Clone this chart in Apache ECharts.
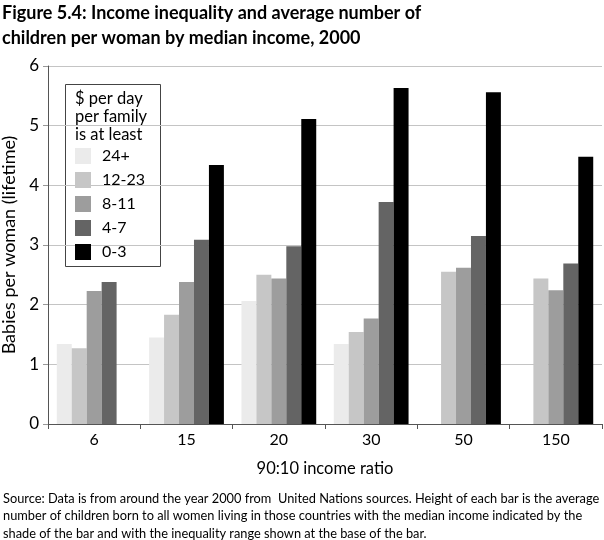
<!DOCTYPE html>
<html><head><meta charset="utf-8">
<script src="https://cdn.jsdelivr.net/npm/echarts@6/dist/echarts.min.js"></script>
<style>html,body{margin:0;padding:0;background:#fff}#c{width:604px;height:540px}</style>
</head><body><div id="c"></div>
<script>
const categories = ['6','15','20','30','50','150'];
const seriesNames = ['24+','12-23','8-11','4-7','0-3'];
const s24 = [1.34, 1.45, 2.06, 1.34, null, null];
const s12 = [1.27, 1.83, 2.50, 1.54, 2.55, 2.44];
const s8  = [2.23, 2.38, 2.44, 1.77, 2.62, 2.24];
const s4  = [2.38, 3.09, 2.98, 3.72, 3.15, 2.69];
const s0  = [null, 4.34, 5.11, 5.63, 5.56, 4.48];
const yTicks = [0,1,2,3,4,5,6];
const colors = ['#ebebeb','#c6c6c6','#9d9d9d','#646464','#000000'];
const values = [s24, s12, s8, s4, s0];
const F = 'Lato, "Open Sans", sans-serif';

const chart = echarts.init(document.getElementById('c'));
chart.setOption({
  animation: false,
  textStyle: { fontFamily: F },
  grid: { left: 48, right: 2, top: 66, bottom: 116, containLabel: false, outerBoundsMode: 'none' },
  xAxis: {
    type: 'category', data: categories,
    name: '90:10 income ratio', nameLocation: 'middle', nameGap: 36,
    nameTextStyle: { fontSize: 16.5, color: '#000', fontFamily: F },
    axisLine: { lineStyle: { color: '#555', width: 1 } },
    axisTick: { show: true, alignWithLabel: false, length: 5, lineStyle: { color: '#555' } },
    axisLabel: { fontSize: 16, color: '#000', margin: 8, fontFamily: F }
  },
  yAxis: {
    type: 'value', min: yTicks[0], max: yTicks[yTicks.length-1], interval: 1,
    name: 'Babies per woman (lifetime)', nameLocation: 'middle', nameGap: 28,
    nameTextStyle: { fontSize: 18, color: '#000', fontFamily: F },
    axisLine: { show: true, lineStyle: { color: '#555' } },
    axisTick: { show: true, length: 5, lineStyle: { color: '#999' } },
    axisLabel: { fontSize: 17, color: '#000', margin: 9, fontFamily: F },
    splitLine: { lineStyle: { color: '#c4c4c4', width: 1 } }
  },
  legend: {
    orient: 'vertical', left: 70, top: 143,
    itemWidth: 16, itemHeight: 16, itemGap: 8,
    icon: 'rect',
    textStyle: { fontSize: 16, color: '#000', fontFamily: F, padding: [0,0,0,6] },
    data: seriesNames
  },
  graphic: [
    { type: 'rect', shape: { x: 65.5, y: 84.5, width: 95, height: 182 },
      style: { fill: '#fff', stroke: '#444', lineWidth: 1 }, z: 0 },
    { type: 'text', left: 75, top: 90, z: 10,
      style: { text: '$ per day\nper family\nis at least', fontSize: 16.5, lineHeight: 18, fill: '#000', fontFamily: F } },
    { type: 'text', left: 2, top: 1,
      style: { text: 'Figure 5.4: Income inequality and average number of\nchildren per woman by median income, 2000', fontSize: 18, fontWeight: 'bold', lineHeight: 25, fill: '#000', fontFamily: F } },
    { type: 'text', left: 3, top: 490,
      style: { text: 'Source: Data is from around the year 2000 from  United Nations sources. Height of each bar is the average\nnumber of children born to all women living in those countries with the median income indicated by the\nshade of the bar and with the inequality range shown at the base of the bar.', fontSize: 12.8, lineHeight: 17.5, fill: '#000', fontFamily: F } }
  ],
  series: seriesNames.map((n, i) => ({
    name: n, type: 'bar', data: values[i], barGap: '0%', barCategoryGap: '19%',
    itemStyle: { color: colors[i] }, z: 2
  }))
});
</script></body></html>
